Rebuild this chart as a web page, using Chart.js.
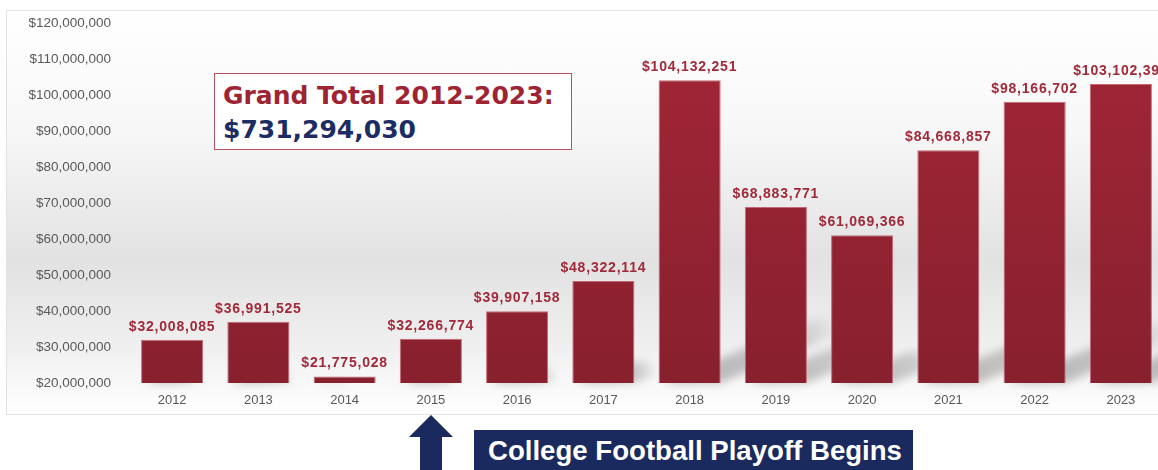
<!DOCTYPE html>
<html>
<head>
<meta charset="utf-8">
<script src="https://cdn.jsdelivr.net/npm/chart.js@4/dist/chart.umd.min.js"></script>
<style>
  html, body { margin: 0; padding: 0; width: 1158px; height: 470px; overflow: hidden; background: #fff; font-family: "Liberation Sans", Arial, sans-serif; }
  #frame {
    position: absolute; left: 6px; top: 10px; width: 1200px; height: 403px;
    border: 1px solid #e2e2e2;
    background: linear-gradient(to bottom, #ffffff 0%, #f7f7f7 30%, #e2e2e2 62%, #f0f0f0 84%, #ffffff 100%);
  }
  #wrap { position: absolute; left: 0; top: -6px; width: 1160px; height: 409px; }
  #total {
    position: absolute; left: 214px; top: 73px; width: 358px; height: 77px;
    border: 1px solid #b8505e; background: #fff; box-sizing: border-box;
    font-family: "DejaVu Sans", Verdana, sans-serif; font-weight: bold; font-size: 25px;
    line-height: 34px; padding: 5px 0 0 8px;
  }
  #total .t1 { color: #9e2433; }
  #total .t2 { color: #1b2d63; }
  #arrow { position: absolute; left: 409px; top: 415px; width: 44px; height: 60px; }
  #banner {
    position: absolute; left: 474px; top: 430px; width: 439px; height: 50px;
    background: #1b2a5e; color: #fff; font-weight: bold; font-size: 27.6px;
    padding: 5px 0 0 14px; box-sizing: border-box; white-space: nowrap;
  }
</style>
</head>
<body>
<div id="frame"><div id="wrap"><canvas id="myChart"></canvas></div></div>
<div id="total"><div class="t1">Grand Total 2012-2023:</div><div class="t2">$731,294,030</div></div>
<svg id="arrow" viewBox="0 0 44 60"><polygon points="22,0 44,22 33,22 33,60 11,60 11,22 0,22" fill="#1b2a5e"/></svg>
<div id="banner">College Football Playoff Begins</div>
<script>
// Data
const years = ["2012", "2013", "2014", "2015", "2016", "2017", "2018", "2019", "2020", "2021", "2022", "2023"];
const revenue = [32008085, 36991525, 21775028, 32266774, 39907158, 48322114, 104132251, 68883771, 61069366, 84668857, 98166702, 103102399];
const yMin = 20000000;
const yMax = 120000000;
const yStep = 10000000;

const money = (v) => "$" + Number(v).toLocaleString("en-US");

// value labels above bars
const labelPlugin = {
  id: "barLabels",
  afterDatasetsDraw(chart) {
    const ctx = chart.ctx;
    const meta = chart.getDatasetMeta(0);
    ctx.save();
    ctx.font = "bold 14px 'Liberation Sans', Arial, sans-serif";
    ctx.letterSpacing = "0.8px";
    ctx.fillStyle = "#a02a3a";
    ctx.textAlign = "center";
    ctx.textBaseline = "bottom";
    meta.data.forEach((bar, i) => {
      ctx.fillText(money(revenue[i]), bar.x, bar.y - 6);
    });
    ctx.restore();
  },
};

// floor shadows going up-right behind the bars
const shadowPlugin = {
  id: "barShadows",
  beforeDatasetsDraw(chart) {
    const ctx = chart.ctx;
    const meta = chart.getDatasetMeta(0);
    const bottom = chart.chartArea.bottom;
    ctx.save();
    ctx.filter = "blur(4px)";
    meta.data.forEach((bar) => {
      const h = bottom - bar.y;
      const w = bar.width;
      const x0 = bar.x - w / 2;
      const dx = h * 0.5;
      const rise = dx * 0.42;
      const g = ctx.createLinearGradient(bar.x, bottom, bar.x + dx, bottom - rise);
      g.addColorStop(0, "rgba(100,100,100,0.45)");
      g.addColorStop(0.7, "rgba(110,110,110,0.3)");
      g.addColorStop(1, "rgba(120,120,120,0)");
      ctx.fillStyle = g;
      ctx.beginPath();
      ctx.moveTo(x0 + 4, bottom);
      ctx.lineTo(x0 + w, bottom);
      ctx.lineTo(x0 + w + dx, bottom - rise);
      ctx.lineTo(x0 + 4 + dx, bottom - rise);
      ctx.closePath();
      ctx.fill();
    });
    ctx.restore();
  },
};

const config = {
  type: "bar",
  data: {
    labels: years,
    datasets: [
      {
        data: revenue,
        backgroundColor: (c) => {
          const area = c.chart.chartArea;
          if (!area) return "#9b2434";
          const g = c.chart.ctx.createLinearGradient(0, area.top, 0, area.bottom);
          g.addColorStop(0, "#a32636");
          g.addColorStop(1, "#88202e");
          return g;
        },
        borderColor: "#c46a76",
        borderWidth: 1,
        barPercentage: 0.8,
        categoryPercentage: 0.9,
      },
    ],
  },
  options: {
    responsive: true,
    maintainAspectRatio: false,
    animation: false,
    layout: { padding: { top: 7, right: 3, left: 0, bottom: 0 } },
    plugins: { legend: { display: false }, tooltip: { enabled: false } },
    scales: {
      x: {
        grid: { display: false },
        border: { display: false },
        ticks: { color: "#595959", font: { size: 13, family: "'Liberation Sans', Arial" }, padding: 2 },
        afterFit: (s) => { s.height = 31; },
      },
      y: {
        min: yMin,
        max: yMax,
        grid: { display: false },
        border: { display: false },
        ticks: {
          stepSize: yStep,
          color: "#595959",
          font: { size: 13.5, family: "'Liberation Sans', Arial" },
          padding: 10,
          callback: (v) => money(v),
        },
        afterFit: (s) => { s.width = 122; },
      },
    },
  },
  plugins: [shadowPlugin, labelPlugin],
};

new Chart(document.getElementById("myChart"), config);
</script>
</body>
</html>
